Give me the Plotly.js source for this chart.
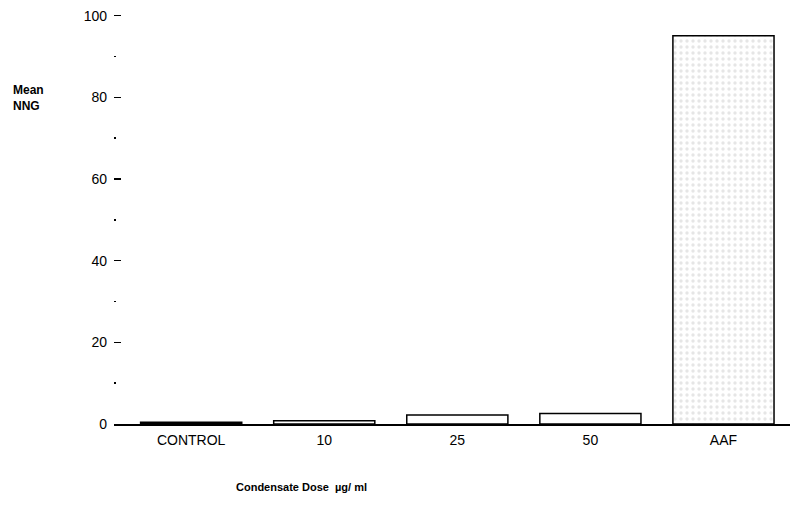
<!DOCTYPE html>
<html>
<head>
<meta charset="utf-8">
<script src="https://cdn.plot.ly/plotly-3.0.1.min.js"></script>
<style>html,body{margin:0;padding:0;background:#fff;}#chart{width:790px;height:517px;}</style>
</head>
<body>
<div id="chart"></div>
<script>
const categories = ["CONTROL", "10", "25", "50", "AAF"];
const meanNNG = [0.4, 0.8, 2.2, 2.6, 95.1];
const barFills = ["#000000", "#ffffff", "#ffffff", "#ffffff", "#e6e6e6"];
const yTicks = [0, 20, 40, 60, 80, 100];
const yTitle = "Mean<br>NNG";
const xTitle = "Condensate Dose  µg/ ml";

const font = "'Liberation Sans', Arial, sans-serif";

const trace = {
  type: "bar",
  x: categories,
  y: meanNNG,
  width: 0.76,
  marker: {
    color: barFills,
    line: { color: "#000", width: 1.5 },
    pattern: {
      shape: ["", "", "", "", "."],
      fgcolor: "#555",
      bgcolor: "#f4f4f4",
      size: 6,
      solidity: 0.25
    }
  },
  hoverinfo: "none"
};

const layout = {
  width: 790, height: 517,
  margin: { l: 114, r: 0, t: 14, b: 93 },
  paper_bgcolor: "#fff",
  plot_bgcolor: "#fff",
  showlegend: false,
  font: { family: font, color: "#000", size: 14 },
  xaxis: {
    type: "category",
    range: [-0.58, 4.5],
    showline: true, linecolor: "#000", linewidth: 1.5,
    ticks: "", showgrid: false, zeroline: false,
    tickfont: { family: font, size: 14, color: "#000" },
    ticklabelstandoff: 3
  },
  yaxis: {
    range: [0, 100.4],
    tickvals: yTicks,
    ticktext: yTicks.map(String),
    showline: false, showgrid: false, zeroline: false,
    ticks: "inside", ticklen: 7, tickwidth: 1.5, tickcolor: "#000",
    ticklabelstandoff: 6,
    tickfont: { family: font, size: 14, color: "#000" },
    minor: { dtick: 10, ticks: "inside", ticklen: 2, tickwidth: 1.5, tickcolor: "#000" }
  },
  annotations: [
    { xref: "paper", yref: "paper", x: -0.153, y: 0.795, xanchor: "left", yanchor: "middle",
      text: yTitle, showarrow: false, align: "left",
      font: { family: font, size: 12, color: "#000", weight: "bold" } },
    { xref: "paper", yref: "paper", x: 0.278, y: -0.154, xanchor: "center", yanchor: "middle",
      text: xTitle, showarrow: false,
      font: { family: font, size: 11, color: "#000", weight: "bold" } }
  ]
};

Plotly.newPlot("chart", [trace], layout, { displayModeBar: false, staticPlot: true });
</script>
</body>
</html>
